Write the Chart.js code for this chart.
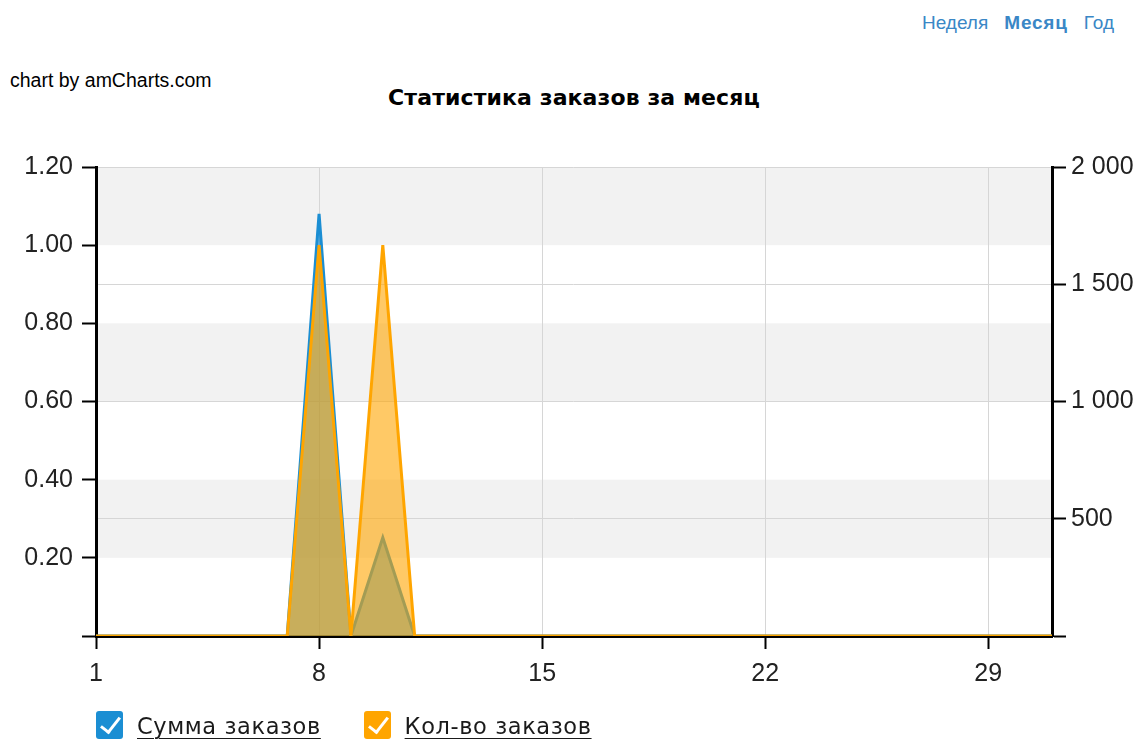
<!DOCTYPE html>
<html lang="ru">
<head>
<meta charset="utf-8">
<title>Статистика заказов за месяц</title>
<script src="https://cdn.jsdelivr.net/npm/chart.js@4/dist/chart.umd.min.js"></script>
<style>
  html, body { margin: 0; padding: 0; background: #fff; }
  body { width: 1148px; height: 743px; position: relative; overflow: hidden; }
  #chart { position: absolute; left: 0; top: 0; }
  .credit { position: absolute; left: 10px; top: 69px; font: 19.5px "Liberation Sans", Arial, sans-serif; color: #000; }
  .title { position: absolute; left: 0; width: 1148px; top: 85px; text-align: center;
           font: bold 22px "DejaVu Sans", Verdana, sans-serif; letter-spacing: 0.1px; color: #000; }
  .periods { position: absolute; right: 34px; top: 12px; font: 19px "Liberation Sans", Arial, sans-serif; color: #3a87c6; }
  .periods span { margin-left: 16px; }
  .periods .active { font-weight: bold; letter-spacing: 0.8px; }
  .legend { position: absolute; left: 96px; top: 711px; font: 22.5px "DejaVu Sans", Verdana, sans-serif;
            letter-spacing: 0.6px; color: #1a1a1a; }
  .legend .item { display: inline-block; margin-right: 35px; }
  .legend .box { display: inline-block; width: 27px; height: 28px; border-radius: 3px; vertical-align: -5px;
                 position: relative; margin-right: 14px; }
  .legend .box::after { content: ""; position: absolute; left: 9px; top: 2px; width: 8px; height: 17px;
                        border: solid #fff; border-width: 0 3px 3px 0; transform: rotate(38deg); }
  .legend .label { text-decoration: underline; text-underline-offset: 4px; text-decoration-thickness: 1px; }
</style>
</head>
<body>
<div class="periods"><span>Неделя</span><span class="active">Месяц</span><span>Год</span></div>
<div class="credit">chart by amCharts.com</div>
<div class="title">Статистика заказов за месяц</div>
<canvas id="chart" width="1148" height="743"></canvas>
<div class="legend">
  <span class="item"><span class="box" style="background:#1b8ed3"></span><span class="label">Сумма заказов</span></span>
  <span class="item"><span class="box" style="background:#ffa500"></span><span class="label">Кол-во заказов</span></span>
</div>
<script>
// дни месяца
const days = [];
for (let d = 1; d <= 31; d++) days.push(d);

// сумма заказов по дням (правая ось)
const orderSums = [0, 0, 0, 0, 0, 0, 0, 1800, 0, 420, 0, 0, 0, 0, 0, 0,
                   0, 0, 0, 0, 0, 0, 0, 0, 0, 0, 0, 0, 0, 0, 0];
// количество заказов по дням (левая ось)
const orderCounts = [0, 0, 0, 0, 0, 0, 0, 1, 0, 1, 0, 0, 0, 0, 0, 0,
                     0, 0, 0, 0, 0, 0, 0, 0, 0, 0, 0, 0, 0, 0, 0];

const dayTicks = [1, 8, 15, 22, 29];

const tickFont = { family: "'Liberation Sans', Arial, sans-serif", size: 25 };

// серые полосы через одну по левой оси, начиная сверху
const bands = {
  id: "bands",
  beforeDraw(chart) {
    const { ctx, chartArea: a } = chart;
    const y = chart.scales.yCount;
    ctx.save();
    ctx.fillStyle = "#f2f2f2";
    for (let i = 2; i < y.ticks.length; i += 2) {
      const top = y.getPixelForValue(y.ticks[i].value);
      const bottom = y.getPixelForValue(y.ticks[i - 1].value);
      ctx.fillRect(a.left, top, a.right - a.left, bottom - top);
    }
    ctx.restore();
  }
};

function fmtThousands(v) {
  return String(v).replace(/\B(?=(\d{3})+(?!\d))/g, " ");
}

new Chart("chart", {
  type: "line",
  data: {
    datasets: [{
      label: "Сумма заказов",
      data: days.map((d, i) => ({ x: d, y: orderSums[i] })),
      yAxisID: "ySum",
      borderColor: "#1b8ed3",
      backgroundColor: "rgba(27,142,211,0.6)",
      borderWidth: 3,
      fill: "origin",
      order: 1
    }, {
      label: "Кол-во заказов",
      data: days.map((d, i) => ({ x: d, y: orderCounts[i] })),
      yAxisID: "yCount",
      borderColor: "#ffa500",
      backgroundColor: "rgba(255,165,0,0.6)",
      borderWidth: 3,
      fill: "origin",
      order: 0
    }]
  },
  options: {
    responsive: false,
    animation: false,
    layout: { padding: { top: 167, left: 0, right: 0, bottom: 0 } },
    elements: { point: { radius: 0 }, line: { tension: 0 } },
    plugins: { legend: { display: false }, tooltip: { enabled: false } },
    scales: {
      x: {
        type: "linear",
        min: 1,
        max: 31,
        afterBuildTicks: s => { s.ticks = dayTicks.map(v => ({ value: v })); },
        afterFit: s => { s.height = 107; },
        border: { display: true, color: "#000", width: 3 },
        grid: { color: "#d6d6d6", tickColor: "#000", tickLength: 13, tickWidth: 2 },
        ticks: { color: "#222", font: tickFont, padding: 10, maxRotation: 0, autoSkip: false }
      },
      yCount: {
        position: "left",
        min: 0,
        max: 1.2,
        afterFit: s => { s.width = 96; },
        border: { display: true, color: "#000", width: 3 },
        grid: { drawOnChartArea: false, tickColor: "#000", tickLength: 14, tickWidth: 2 },
        ticks: {
          stepSize: 0.2,
          color: "#222",
          font: tickFont,
          padding: 9,
          callback: v => v === 0 ? "" : v.toFixed(2)
        }
      },
      ySum: {
        position: "right",
        min: 0,
        max: 2000,
        afterFit: s => { s.width = 96; },
        border: { display: true, color: "#000", width: 3 },
        grid: { color: "#d6d6d6", tickColor: "#000", tickLength: 14, tickWidth: 2 },
        ticks: {
          stepSize: 500,
          color: "#222",
          font: tickFont,
          padding: 5,
          callback: v => v === 0 ? "" : fmtThousands(v)
        }
      }
    }
  },
  plugins: [bands]
});
</script>
</body>
</html>
